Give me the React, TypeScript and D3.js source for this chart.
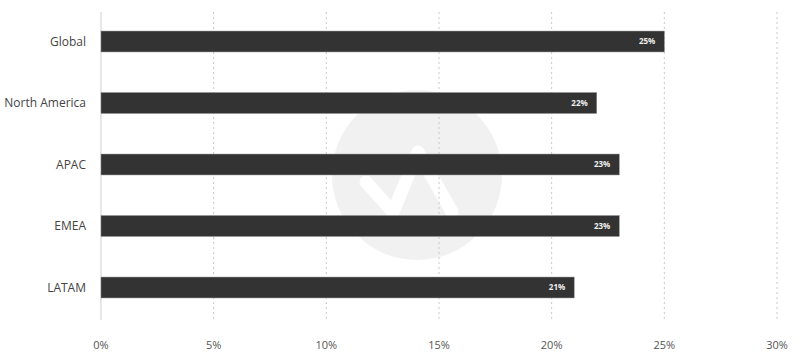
import React from "react";
import * as d3 from "d3";

const categories = ["Global", "North America", "APAC", "EMEA", "LATAM"];
const values = [25, 22, 23, 23, 21];
const ticks = [0, 5, 10, 15, 20, 25, 30];

const W = 800;
const H = 354;
const left = 101;
const right = 777;
const top = 12;
const bottom = 320;

export default function App() {
  const x = d3.scaleLinear().domain([0, 30]).range([left, right]);
  const y = d3
    .scaleBand<string>()
    .domain(categories)
    .range([10.75, 318.25])
    .paddingInner(0.66)
    .paddingOuter(0.33);
  const font = "'Open Sans', Lato, sans-serif";
  return (
    <svg
      width={W}
      height={H}
      style={{ position: "absolute", left: 0, top: 0, background: "#fff" }}
      fontFamily={font}
    >
      <g>
        <circle cx={417} cy={175} r={85} fill="#f1f1f1" />
        <path
          d="M366,182 L393,212 L418,152 L452,212"
          fill="none"
          stroke="#fff"
          strokeWidth={13}
          strokeLinecap="round"
          strokeLinejoin="round"
        />
      </g>
      {ticks
        .filter((t) => t > 0)
        .map((t) => (
          <line
            key={t}
            x1={x(t)}
            x2={x(t)}
            y1={top}
            y2={bottom}
            stroke="#c8c8c8"
            strokeWidth={1}
            strokeDasharray="2,3"
          />
        ))}
      <line x1={x(0)} x2={x(0)} y1={top} y2={bottom} stroke="#cfcfcf" strokeWidth={1} />
      {categories.map((c, i) => (
        <g key={c}>
          <rect
            x={x(0)}
            y={y(c)!}
            width={x(values[i]) - x(0)}
            height={y.bandwidth()}
            fill="#333333"
            stroke="#8a8a8a"
            strokeWidth={0.5}
          />
          <text
            x={x(values[i]) - 9}
            y={y(c)! + y.bandwidth() / 2}
            dy="0.35em"
            textAnchor="end"
            fill="#eeeeee"
            fontSize={8}
            fontWeight="bold"
          >
            {values[i]}%
          </text>
          <text
            x={86}
            y={y(c)! + y.bandwidth() / 2}
            dy="0.35em"
            textAnchor="end"
            fill="#444"
            fontSize={12}
          >
            {c}
          </text>
        </g>
      ))}
      {ticks.map((t) => (
        <text
          key={t}
          x={x(t)}
          y={345}
          dy="0.35em"
          textAnchor="middle"
          fill="#555"
          fontSize={11}
        >
          {t}%
        </text>
      ))}
    </svg>
  );
}
